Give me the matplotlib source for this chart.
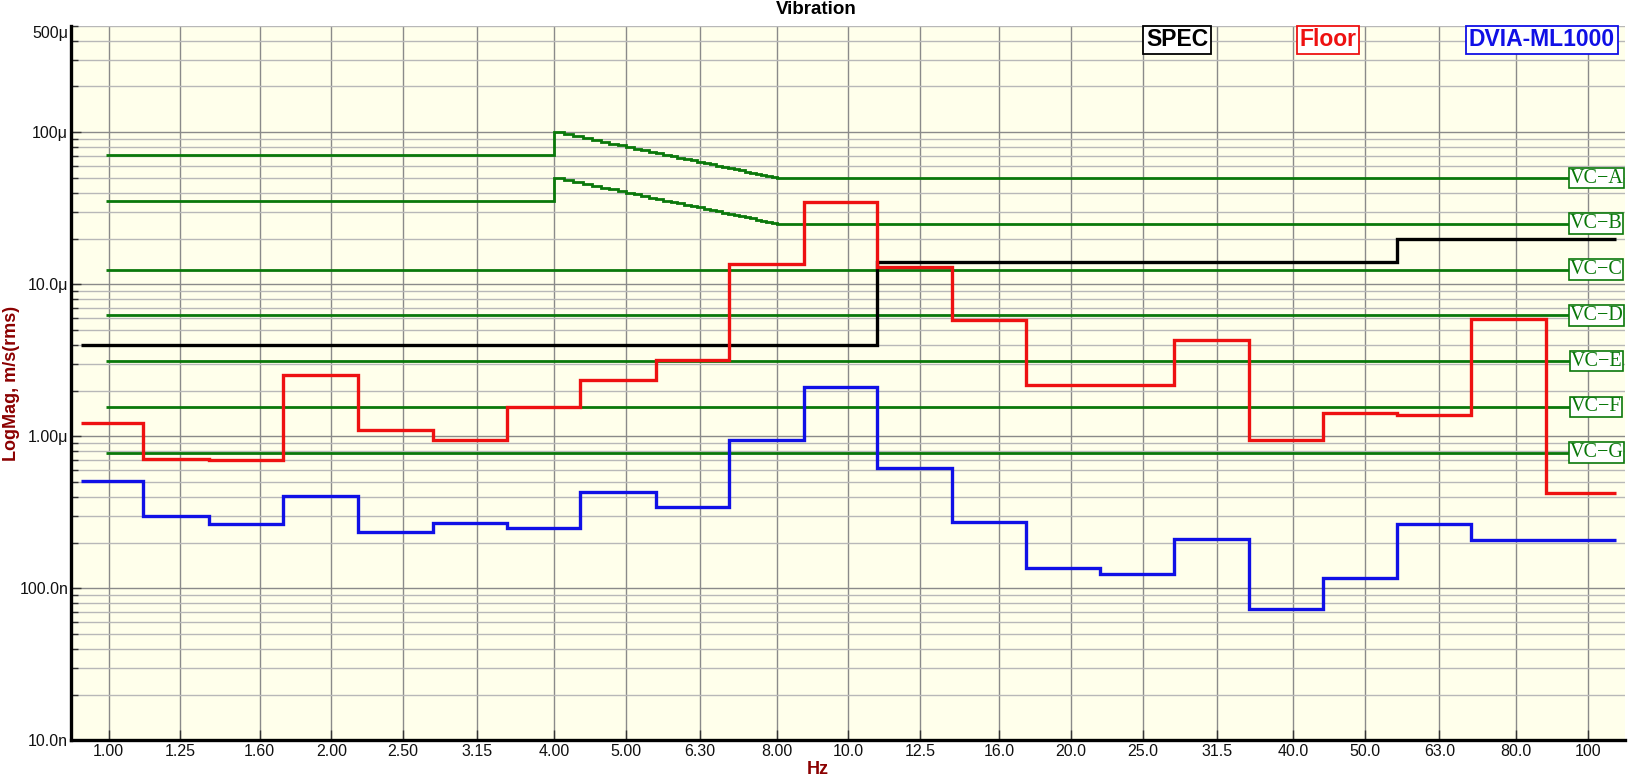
import matplotlib
matplotlib.use("Agg")
import matplotlib.pyplot as plt
from matplotlib import font_manager as fm
from matplotlib.ticker import FixedLocator, NullFormatter
import matplotlib.transforms as mtransforms

# ---------------- data ----------------
tick_freqs = [1.0, 1.25, 1.6, 2.0, 2.5, 3.15, 4.0, 5.0, 6.3, 8.0, 10.0,
              12.5, 16.0, 20.0, 25.0, 31.5, 40.0, 50.0, 63.0, 80.0, 100.0]
tick_labels = ["1.00", "1.25", "1.60", "2.00", "2.50", "3.15", "4.00", "5.00",
               "6.30", "8.00", "10.0", "12.5", "16.0", "20.0", "25.0", "31.5",
               "40.0", "50.0", "63.0", "80.0", "100"]

# third-octave band edges (Hz)
band_edges = [0.917, 1.114, 1.368, 1.722, 2.176, 2.745, 3.455, 4.335, 5.492,
              6.889, 8.699, 10.95, 13.8, 17.41, 21.90, 27.58, 34.83, 43.84,
              55.19, 69.55, 87.83, 109.2]

# velocities in micro m/s (rms)
floor_um = [1.22, 0.712, 0.698, 2.53, 1.10, 0.94, 1.55, 2.35, 3.17, 13.5, 34.8,
            13.05, 5.82, 2.17, 2.17, 4.28, 0.94, 1.42, 1.37, 5.91, 0.424]
dvia_um = [0.506, 0.298, 0.266, 0.403, 0.235, 0.267, 0.25, 0.428, 0.343, 0.94,
           2.10, 0.615, 0.271, 0.135, 0.125, 0.211, 0.0736, 0.116, 0.265, 0.207,
           0.207]
spec_um = [4.0, 4.0, 4.0, 4.0, 4.0, 4.0, 4.0, 4.0, 4.0, 4.0, 4.0,
           14.0, 14.0, 14.0, 14.0, 14.0, 14.0, 14.0, 20.0, 20.0, 20.0]

# VC criteria
vc_names = ["VC\u2212A", "VC\u2212B", "VC\u2212C", "VC\u2212D", "VC\u2212E",
            "VC\u2212F", "VC\u2212G"]
vc_levels_um = [50.0, 25.0, 12.5, 6.25, 3.12, 1.56, 0.78]
vc_low_um = [70.7, 35.4]          # VC-A / VC-B below 4 Hz
vc_start_hz = 0.99
vc_end_hz = 100.0
ramp_freqs = [4.0, 4.125, 4.25, 4.375, 4.5, 4.625, 4.75, 4.875, 5.0, 5.125,
              5.25, 5.375, 5.5, 5.625, 5.75, 5.875, 6.0, 6.125, 6.25, 6.375,
              6.5, 6.625, 6.75, 6.875, 7.0, 7.125, 7.25, 7.375, 7.5, 7.625,
              7.75, 7.875, 8.0]
vca_ramp_um = [100.0, 96.97, 94.12, 91.43, 88.89, 86.49, 84.21, 82.05, 80.00,
               78.05, 76.19, 74.42, 72.73, 71.11, 69.57, 68.09, 66.67, 65.31,
               64.00, 62.75, 61.54, 60.38, 59.26, 58.18, 57.14, 56.14, 55.17,
               54.24, 53.33, 52.46, 51.61, 50.79]
vcb_ramp_um = [50.0, 48.48, 47.06, 45.71, 44.44, 43.24, 42.11, 41.03, 40.00,
               39.02, 38.10, 37.21, 36.36, 35.56, 34.78, 34.04, 33.33, 32.65,
               32.00, 31.37, 30.77, 30.19, 29.63, 29.09, 28.57, 28.07, 27.59,
               27.12, 26.67, 26.23, 25.81, 25.40]

y_major = [1e-8, 1e-7, 1e-6, 1e-5, 1e-4]
y_major_labels = ["10.0n", "100.0n", "1.00\u03bc", "10.0\u03bc", "100\u03bc"]
y_top = 5e-4
y_top_label = "500\u03bc"

# ---------------- fonts ----------------
def have(name):
    try:
        fm.findfont(name, fallback_to_default=False)
        return True
    except Exception:
        return False

sans = "Liberation Sans" if have("Liberation Sans") else "DejaVu Sans"
narrow = "Liberation Sans Narrow" if have("Liberation Sans Narrow") else sans
serif = "Liberation Serif" if have("Liberation Serif") else "DejaVu Serif"
plt.rcParams["font.family"] = [sans, "DejaVu Sans"]

U = 1e-6
GREEN = "#0a780a"
RED = "#ee1111"
BLUE = "#1010e6"
DARKRED = "#8b0000"

# ---------------- figure ----------------
W, H = 1632, 777
fig = plt.figure(figsize=(W / 100, H / 100), dpi=100)
x0, x1, yt, yb = 71, 1625, 26, 740.3
ax = fig.add_axes([x0 / W, 1 - yb / H, (x1 - x0) / W, (yb - yt) / H])
ax.set_facecolor("#ffffeb")
ax.set_xscale("log")
ax.set_yscale("log")
ax.set_xlim(0.889, 112.3)
ax.set_ylim(1e-8, y_top)

# grid
ax.xaxis.set_major_locator(FixedLocator(tick_freqs))
ax.xaxis.set_minor_locator(FixedLocator([]))
ax.set_xticklabels(tick_labels)
ax.yaxis.set_major_locator(FixedLocator(y_major))
ax.set_yticklabels(y_major_labels)
minors = []
for d in y_major:
    for m in range(2, 10):
        if d * m <= y_top * 1.001:
            minors.append(d * m)
ax.yaxis.set_minor_locator(FixedLocator(minors))
ax.yaxis.set_minor_formatter(NullFormatter())
ax.grid(True, which="major", axis="x", color="#8a8a8a", lw=1.0, zorder=0)
ax.grid(True, which="major", axis="y", color="#8a8a8a", lw=1.0, zorder=0)
ax.grid(True, which="minor", axis="y", color="#b8b8b8", lw=1.0, zorder=0)
ax.set_axisbelow(True)

for s in ["top", "right"]:
    ax.spines[s].set_visible(False)
for s in ["left", "bottom"]:
    ax.spines[s].set_linewidth(2.4)
    ax.spines[s].set_color("black")

ax.tick_params(axis="x", which="major", direction="in", length=7, width=1,
               color="#333333", pad=3, labelsize=11.5)
ax.tick_params(axis="y", which="major", direction="in", length=7, width=1,
               color="#333333", pad=2, labelsize=11.5)
ax.tick_params(axis="y", which="minor", direction="in", length=5, width=1,
               color="#333333")
for lab in ax.get_xticklabels():
    lab.set_fontfamily([narrow, "DejaVu Sans"])
    lab.set_color("#111111")
for lab in ax.get_yticklabels():
    lab.set_color("#111111")

trans_y = mtransforms.blended_transform_factory(ax.transAxes, ax.transData)
ax.text(-2.5 / (x1 - x0), y_top, y_top_label, transform=trans_y, ha="right",
        va="top", fontsize=11.5, color="#111111")

# VC criteria lines
for i, (name, lvl) in enumerate(zip(vc_names, vc_levels_um)):
    if i < 2:
        ramp = vca_ramp_um if i == 0 else vcb_ramp_um
        edges = [vc_start_hz] + ramp_freqs + [vc_end_hz]
        vals = [vc_low_um[i]] + ramp + [lvl]
        ax.stairs([v * U for v in vals], edges, color=GREEN, lw=2.0,
                  baseline=None, zorder=2)
    else:
        ax.plot([vc_start_hz, vc_end_hz], [lvl * U, lvl * U], color=GREEN,
                lw=2.0, zorder=2, solid_capstyle="butt")
    ax.text(0.9815, lvl * U, name, transform=trans_y, ha="center",
            va="center", fontsize=14.5, color=GREEN, family=serif, zorder=10,
            bbox=dict(boxstyle="square,pad=0.04", fc="white", ec=GREEN,
                      lw=1.2))

# measured / spec series
ax.stairs([v * U for v in spec_um], band_edges, color="black", lw=2.4,
          baseline=None, zorder=3)
ax.stairs([v * U for v in floor_um], band_edges, color=RED, lw=2.4,
          baseline=None, zorder=4)
ax.stairs([v * U for v in dvia_um], band_edges, color=BLUE, lw=2.4,
          baseline=None, zorder=5)

# labels
ax.set_ylabel("LogMag, m/s(rms)", color=DARKRED, fontweight="bold",
              fontsize=13)
ax.yaxis.set_label_coords((20 - x0) / (x1 - x0), 0.5)
fig.text(818 / W, 1 - 769 / H, "Hz", ha="center", va="center",
         color=DARKRED, fontweight="bold", fontsize=13,
         family=[narrow, "DejaVu Sans"])
fig.text(0.5, 1 - 1 / H, "Vibration", ha="center", va="top",
         fontweight="bold", fontsize=13.5)

# legend boxes
for txt, col, cx in [("SPEC", "black", 1177), ("Floor", RED, 1328),
                     ("DVIA-ML1000", BLUE, 1542)]:
    fig.text(cx / W, 1 - 40 / H, txt, ha="center", va="center", color=col,
             fontweight="bold", fontsize=16.5,
             bbox=dict(boxstyle="square,pad=0.12", fc="white", ec=col,
                       lw=1.3), zorder=20)

fig.savefig("out.png", dpi=100, facecolor="white")
